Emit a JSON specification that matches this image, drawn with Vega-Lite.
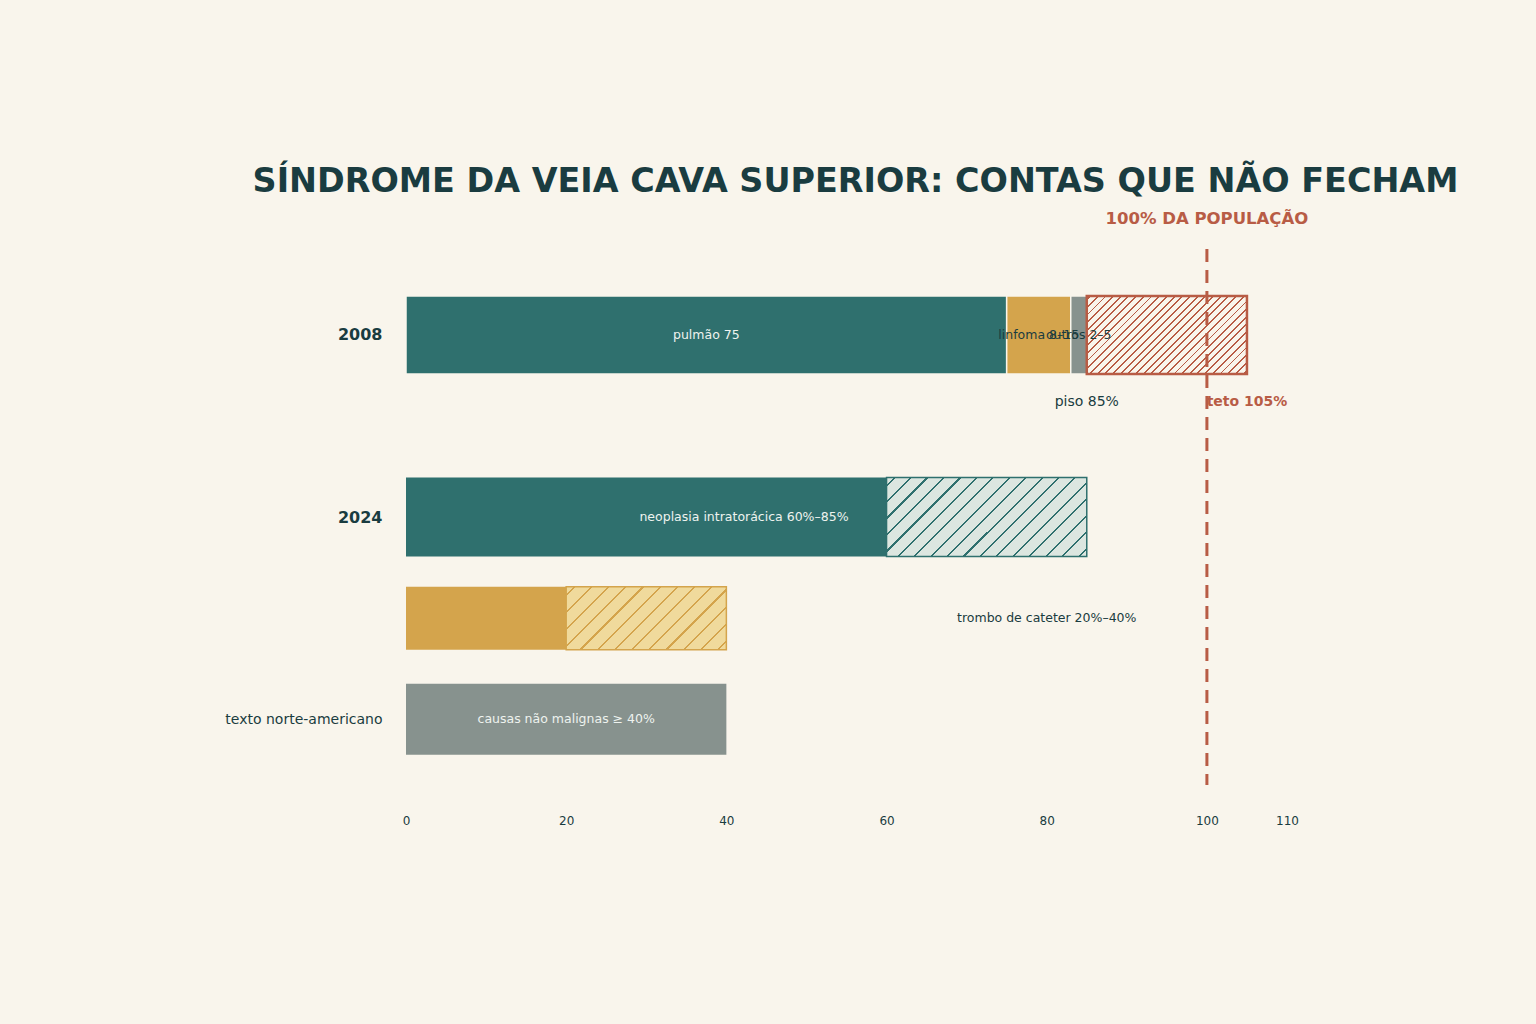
{
  "$schema": "https://vega.github.io/schema/vega-lite/v6.json",
  "width": 881,
  "height": 536,
  "autosize": {"type": "none"},
  "padding": {"left": 406, "top": 249, "right": 249, "bottom": 239},
  "background": "#f9f5ec",
  "config": {"view": {"stroke": null}, "font": "DejaVu Sans"},
  "title": {
    "text": "SÍNDROME DA VEIA CAVA SUPERIOR: CONTAS QUE NÃO FECHAM",
    "fontSize": 33.4,
    "fontWeight": "bold",
    "color": "#1a3c40",
    "font": "DejaVu Sans",
    "anchor": "middle",
    "frame": "group",
    "dx": 9,
    "dy": 75,
    "offset": 60,
    "baseline": "alphabetic"
  },
  "datasets": {
    "barras": [
      {"linha": "2008", "pos": 3.8, "causa": "pulmão", "tipo": "sólido", "inicio": 0, "fim": 75},
      {"linha": "2008", "pos": 3.8, "causa": "linfoma", "tipo": "sólido", "inicio": 75, "fim": 83},
      {"linha": "2008", "pos": 3.8, "causa": "outros", "tipo": "sólido", "inicio": 83, "fim": 85},
      {"linha": "2008", "pos": 3.8, "causa": "lacuna", "tipo": "faixa", "inicio": 85, "fim": 105},
      {"linha": "2024", "pos": 2, "causa": "neoplasia intratorácica", "tipo": "sólido", "inicio": 0, "fim": 60},
      {"linha": "2024", "pos": 2, "causa": "neoplasia intratorácica", "tipo": "faixa", "inicio": 60, "fim": 85},
      {"linha": "trombo", "pos": 1, "causa": "trombo de cateter", "tipo": "sólido", "inicio": 0, "fim": 20},
      {"linha": "trombo", "pos": 1, "causa": "trombo de cateter", "tipo": "faixa", "inicio": 20, "fim": 40},
      {"linha": "texto", "pos": 0, "causa": "causas não malignas", "tipo": "sólido", "inicio": 0, "fim": 40}
    ],
    "rotulosClaros": [
      {"texto": "pulmão 75", "x": 37.5, "y": 3.8},
      {"texto": "neoplasia intratorácica 60%–85%", "x": 42.2, "y": 2},
      {"texto": "causas não malignas ≥ 40%", "x": 20, "y": 0}
    ],
    "rotulosEscuros": [
      {"texto": "linfoma 8–15", "x": 79, "y": 3.8},
      {"texto": "outros 2–5", "x": 84, "y": 3.8},
      {"texto": "trombo de cateter 20%–40%", "x": 80, "y": 1}
    ]
  },
  "layer": [
    {
      "data": {"name": "barras"},
      "transform": [{"filter": "datum.linha == '2008' && datum.tipo == 'sólido'"}],
      "mark": {"type": "bar", "size": 78, "stroke": "#f9f5ec", "strokeWidth": 1.5},
      "encoding": {
        "x": {
          "field": "inicio", "type": "quantitative",
          "scale": {"domain": [0, 110], "nice": false, "zero": false, "padding": 0},
          "axis": {
            "values": [0, 20, 40, 60, 80, 100, 110],
            "grid": false, "domain": false, "ticks": false, "labelFlush": false,
            "labelPadding": 30, "labelFontSize": 12, "labelColor": "#1a3c40",
            "labelFont": "DejaVu Sans", "title": null
          }
        },
        "x2": {"field": "fim"},
        "y": {
          "field": "pos", "type": "quantitative",
          "scale": {"domain": [-0.65, 4.65], "nice": false, "zero": false, "padding": 0},
          "axis": {
            "values": [3.8, 2, 0],
            "labelExpr": "datum.value > 3 ? '2008' : datum.value > 1 ? '2024' : 'texto norte-americano'",
            "labelFontWeight": {"condition": {"test": "datum.value > 1", "value": "bold"}, "value": "normal"},
            "labelFontSize": {"condition": {"test": "datum.value > 1", "value": 16}, "value": 14},
            "grid": false, "domain": false, "ticks": false,
            "labelPadding": 24, "labelColor": "#1a3c40", "labelFont": "DejaVu Sans", "title": null
          }
        },
        "color": {
          "field": "causa", "type": "nominal",
          "scale": {
            "domain": ["pulmão", "linfoma", "outros", "neoplasia intratorácica", "trombo de cateter", "causas não malignas"],
            "range": ["#2f706e", "#d4a44c", "#87928e", "#2f706e", "#d4a44c", "#87928e"]
          },
          "legend": null
        }
      }
    },
    {
      "data": {"name": "barras"},
      "transform": [{"filter": "datum.linha == '2008' && datum.tipo == 'faixa'"}],
      "mark": {
        "type": "bar", "size": 78, "stroke": "#b85c45", "strokeWidth": 2.5,
        "fill": {
          "gradient": "linear", "x1": 0, "y1": 0, "x2": 1.2019, "y2": 0.5853,
          "stops": [
            {"offset": 0.012, "color": "#f9f5ec"}, {"offset": 0.012, "color": "#b85c45"}, {"offset": 0.020, "color": "#b85c45"}, {"offset": 0.020, "color": "#f9f5ec"},
            {"offset": 0.044, "color": "#f9f5ec"}, {"offset": 0.044, "color": "#b85c45"}, {"offset": 0.052, "color": "#b85c45"}, {"offset": 0.052, "color": "#f9f5ec"},
            {"offset": 0.077, "color": "#f9f5ec"}, {"offset": 0.077, "color": "#b85c45"}, {"offset": 0.085, "color": "#b85c45"}, {"offset": 0.085, "color": "#f9f5ec"},
            {"offset": 0.109, "color": "#f9f5ec"}, {"offset": 0.109, "color": "#b85c45"}, {"offset": 0.117, "color": "#b85c45"}, {"offset": 0.117, "color": "#f9f5ec"},
            {"offset": 0.141, "color": "#f9f5ec"}, {"offset": 0.141, "color": "#b85c45"}, {"offset": 0.149, "color": "#b85c45"}, {"offset": 0.149, "color": "#f9f5ec"},
            {"offset": 0.173, "color": "#f9f5ec"}, {"offset": 0.173, "color": "#b85c45"}, {"offset": 0.181, "color": "#b85c45"}, {"offset": 0.181, "color": "#f9f5ec"},
            {"offset": 0.206, "color": "#f9f5ec"}, {"offset": 0.206, "color": "#b85c45"}, {"offset": 0.214, "color": "#b85c45"}, {"offset": 0.214, "color": "#f9f5ec"},
            {"offset": 0.238, "color": "#f9f5ec"}, {"offset": 0.238, "color": "#b85c45"}, {"offset": 0.246, "color": "#b85c45"}, {"offset": 0.246, "color": "#f9f5ec"},
            {"offset": 0.270, "color": "#f9f5ec"}, {"offset": 0.270, "color": "#b85c45"}, {"offset": 0.278, "color": "#b85c45"}, {"offset": 0.278, "color": "#f9f5ec"},
            {"offset": 0.302, "color": "#f9f5ec"}, {"offset": 0.302, "color": "#b85c45"}, {"offset": 0.310, "color": "#b85c45"}, {"offset": 0.310, "color": "#f9f5ec"},
            {"offset": 0.335, "color": "#f9f5ec"}, {"offset": 0.335, "color": "#b85c45"}, {"offset": 0.343, "color": "#b85c45"}, {"offset": 0.343, "color": "#f9f5ec"},
            {"offset": 0.367, "color": "#f9f5ec"}, {"offset": 0.367, "color": "#b85c45"}, {"offset": 0.375, "color": "#b85c45"}, {"offset": 0.375, "color": "#f9f5ec"},
            {"offset": 0.399, "color": "#f9f5ec"}, {"offset": 0.399, "color": "#b85c45"}, {"offset": 0.407, "color": "#b85c45"}, {"offset": 0.407, "color": "#f9f5ec"},
            {"offset": 0.431, "color": "#f9f5ec"}, {"offset": 0.431, "color": "#b85c45"}, {"offset": 0.439, "color": "#b85c45"}, {"offset": 0.439, "color": "#f9f5ec"},
            {"offset": 0.464, "color": "#f9f5ec"}, {"offset": 0.464, "color": "#b85c45"}, {"offset": 0.472, "color": "#b85c45"}, {"offset": 0.472, "color": "#f9f5ec"},
            {"offset": 0.496, "color": "#f9f5ec"}, {"offset": 0.496, "color": "#b85c45"}, {"offset": 0.504, "color": "#b85c45"}, {"offset": 0.504, "color": "#f9f5ec"},
            {"offset": 0.528, "color": "#f9f5ec"}, {"offset": 0.528, "color": "#b85c45"}, {"offset": 0.536, "color": "#b85c45"}, {"offset": 0.536, "color": "#f9f5ec"},
            {"offset": 0.561, "color": "#f9f5ec"}, {"offset": 0.561, "color": "#b85c45"}, {"offset": 0.569, "color": "#b85c45"}, {"offset": 0.569, "color": "#f9f5ec"},
            {"offset": 0.593, "color": "#f9f5ec"}, {"offset": 0.593, "color": "#b85c45"}, {"offset": 0.601, "color": "#b85c45"}, {"offset": 0.601, "color": "#f9f5ec"},
            {"offset": 0.625, "color": "#f9f5ec"}, {"offset": 0.625, "color": "#b85c45"}, {"offset": 0.633, "color": "#b85c45"}, {"offset": 0.633, "color": "#f9f5ec"},
            {"offset": 0.657, "color": "#f9f5ec"}, {"offset": 0.657, "color": "#b85c45"}, {"offset": 0.665, "color": "#b85c45"}, {"offset": 0.665, "color": "#f9f5ec"},
            {"offset": 0.690, "color": "#f9f5ec"}, {"offset": 0.690, "color": "#b85c45"}, {"offset": 0.698, "color": "#b85c45"}, {"offset": 0.698, "color": "#f9f5ec"},
            {"offset": 0.722, "color": "#f9f5ec"}, {"offset": 0.722, "color": "#b85c45"}, {"offset": 0.730, "color": "#b85c45"}, {"offset": 0.730, "color": "#f9f5ec"},
            {"offset": 0.754, "color": "#f9f5ec"}, {"offset": 0.754, "color": "#b85c45"}, {"offset": 0.762, "color": "#b85c45"}, {"offset": 0.762, "color": "#f9f5ec"},
            {"offset": 0.786, "color": "#f9f5ec"}, {"offset": 0.786, "color": "#b85c45"}, {"offset": 0.794, "color": "#b85c45"}, {"offset": 0.794, "color": "#f9f5ec"},
            {"offset": 0.818, "color": "#f9f5ec"}, {"offset": 0.818, "color": "#b85c45"}, {"offset": 0.826, "color": "#b85c45"}, {"offset": 0.826, "color": "#f9f5ec"},
            {"offset": 0.851, "color": "#f9f5ec"}, {"offset": 0.851, "color": "#b85c45"}, {"offset": 0.859, "color": "#b85c45"}, {"offset": 0.859, "color": "#f9f5ec"},
            {"offset": 0.883, "color": "#f9f5ec"}, {"offset": 0.883, "color": "#b85c45"}, {"offset": 0.891, "color": "#b85c45"}, {"offset": 0.891, "color": "#f9f5ec"},
            {"offset": 0.915, "color": "#f9f5ec"}, {"offset": 0.915, "color": "#b85c45"}, {"offset": 0.923, "color": "#b85c45"}, {"offset": 0.923, "color": "#f9f5ec"},
            {"offset": 0.948, "color": "#f9f5ec"}, {"offset": 0.948, "color": "#b85c45"}, {"offset": 0.956, "color": "#b85c45"}, {"offset": 0.956, "color": "#f9f5ec"},
            {"offset": 0.980, "color": "#f9f5ec"}, {"offset": 0.980, "color": "#b85c45"}, {"offset": 0.988, "color": "#b85c45"}, {"offset": 0.988, "color": "#f9f5ec"}
          ]
        }
      },
      "encoding": {
        "x": {"field": "inicio", "type": "quantitative"},
        "x2": {"field": "fim"},
        "y": {"field": "pos", "type": "quantitative"}
      }
    },
    {
      "data": {"name": "barras"},
      "transform": [{"filter": "datum.linha == '2024' && datum.tipo == 'sólido'"}],
      "mark": {"type": "bar", "size": 79},
      "encoding": {
        "x": {"field": "inicio", "type": "quantitative"},
        "x2": {"field": "fim"},
        "y": {"field": "pos", "type": "quantitative"},
        "color": {"field": "causa", "type": "nominal", "legend": null}
      }
    },
    {
      "data": {"name": "barras"},
      "transform": [{"filter": "datum.linha == '2024' && datum.tipo == 'faixa'"}],
      "mark": {
        "type": "bar", "size": 79, "stroke": "#2f706e", "strokeWidth": 1.5,
        "fill": {
          "gradient": "linear", "x1": 0, "y1": 0, "x2": 1.2067, "y2": 0.4767,
          "stops": [
            {"offset": 0.025, "color": "#dce6e0"}, {"offset": 0.025, "color": "#2f706e"}, {"offset": 0.033, "color": "#2f706e"}, {"offset": 0.033, "color": "#dce6e0"},
            {"offset": 0.084, "color": "#dce6e0"}, {"offset": 0.084, "color": "#2f706e"}, {"offset": 0.092, "color": "#2f706e"}, {"offset": 0.092, "color": "#dce6e0"},
            {"offset": 0.143, "color": "#dce6e0"}, {"offset": 0.143, "color": "#2f706e"}, {"offset": 0.151, "color": "#2f706e"}, {"offset": 0.151, "color": "#dce6e0"},
            {"offset": 0.202, "color": "#dce6e0"}, {"offset": 0.202, "color": "#2f706e"}, {"offset": 0.210, "color": "#2f706e"}, {"offset": 0.210, "color": "#dce6e0"},
            {"offset": 0.261, "color": "#dce6e0"}, {"offset": 0.261, "color": "#2f706e"}, {"offset": 0.269, "color": "#2f706e"}, {"offset": 0.269, "color": "#dce6e0"},
            {"offset": 0.320, "color": "#dce6e0"}, {"offset": 0.320, "color": "#2f706e"}, {"offset": 0.328, "color": "#2f706e"}, {"offset": 0.328, "color": "#dce6e0"},
            {"offset": 0.378, "color": "#dce6e0"}, {"offset": 0.378, "color": "#2f706e"}, {"offset": 0.386, "color": "#2f706e"}, {"offset": 0.386, "color": "#dce6e0"},
            {"offset": 0.437, "color": "#dce6e0"}, {"offset": 0.437, "color": "#2f706e"}, {"offset": 0.445, "color": "#2f706e"}, {"offset": 0.445, "color": "#dce6e0"},
            {"offset": 0.496, "color": "#dce6e0"}, {"offset": 0.496, "color": "#2f706e"}, {"offset": 0.504, "color": "#2f706e"}, {"offset": 0.504, "color": "#dce6e0"},
            {"offset": 0.555, "color": "#dce6e0"}, {"offset": 0.555, "color": "#2f706e"}, {"offset": 0.563, "color": "#2f706e"}, {"offset": 0.563, "color": "#dce6e0"},
            {"offset": 0.614, "color": "#dce6e0"}, {"offset": 0.614, "color": "#2f706e"}, {"offset": 0.622, "color": "#2f706e"}, {"offset": 0.622, "color": "#dce6e0"},
            {"offset": 0.672, "color": "#dce6e0"}, {"offset": 0.672, "color": "#2f706e"}, {"offset": 0.680, "color": "#2f706e"}, {"offset": 0.680, "color": "#dce6e0"},
            {"offset": 0.731, "color": "#dce6e0"}, {"offset": 0.731, "color": "#2f706e"}, {"offset": 0.739, "color": "#2f706e"}, {"offset": 0.739, "color": "#dce6e0"},
            {"offset": 0.790, "color": "#dce6e0"}, {"offset": 0.790, "color": "#2f706e"}, {"offset": 0.798, "color": "#2f706e"}, {"offset": 0.798, "color": "#dce6e0"},
            {"offset": 0.849, "color": "#dce6e0"}, {"offset": 0.849, "color": "#2f706e"}, {"offset": 0.857, "color": "#2f706e"}, {"offset": 0.857, "color": "#dce6e0"},
            {"offset": 0.908, "color": "#dce6e0"}, {"offset": 0.908, "color": "#2f706e"}, {"offset": 0.916, "color": "#2f706e"}, {"offset": 0.916, "color": "#dce6e0"},
            {"offset": 0.967, "color": "#dce6e0"}, {"offset": 0.967, "color": "#2f706e"}, {"offset": 0.975, "color": "#2f706e"}, {"offset": 0.975, "color": "#dce6e0"}
          ]
        }
      },
      "encoding": {
        "x": {"field": "inicio", "type": "quantitative"},
        "x2": {"field": "fim"},
        "y": {"field": "pos", "type": "quantitative"}
      }
    },
    {
      "data": {"name": "barras"},
      "transform": [{"filter": "datum.linha == 'trombo' && datum.tipo == 'sólido'"}],
      "mark": {"type": "bar", "size": 63},
      "encoding": {
        "x": {"field": "inicio", "type": "quantitative"},
        "x2": {"field": "fim"},
        "y": {"field": "pos", "type": "quantitative"},
        "color": {"field": "causa", "type": "nominal", "legend": null}
      }
    },
    {
      "data": {"name": "barras"},
      "transform": [{"filter": "datum.linha == 'trombo' && datum.tipo == 'faixa'"}],
      "mark": {
        "type": "bar", "size": 63, "stroke": "#d4a44c", "strokeWidth": 1.5,
        "fill": {
          "gradient": "linear", "x1": 0, "y1": 0, "x2": 1.2067, "y2": 0.4754,
          "stops": [
            {"offset": 0.033, "color": "#f0da9c"}, {"offset": 0.033, "color": "#d4a44c"}, {"offset": 0.043, "color": "#d4a44c"}, {"offset": 0.043, "color": "#f0da9c"},
            {"offset": 0.110, "color": "#f0da9c"}, {"offset": 0.110, "color": "#d4a44c"}, {"offset": 0.120, "color": "#d4a44c"}, {"offset": 0.120, "color": "#f0da9c"},
            {"offset": 0.187, "color": "#f0da9c"}, {"offset": 0.187, "color": "#d4a44c"}, {"offset": 0.197, "color": "#d4a44c"}, {"offset": 0.197, "color": "#f0da9c"},
            {"offset": 0.264, "color": "#f0da9c"}, {"offset": 0.264, "color": "#d4a44c"}, {"offset": 0.274, "color": "#d4a44c"}, {"offset": 0.274, "color": "#f0da9c"},
            {"offset": 0.341, "color": "#f0da9c"}, {"offset": 0.341, "color": "#d4a44c"}, {"offset": 0.351, "color": "#d4a44c"}, {"offset": 0.351, "color": "#f0da9c"},
            {"offset": 0.418, "color": "#f0da9c"}, {"offset": 0.418, "color": "#d4a44c"}, {"offset": 0.428, "color": "#d4a44c"}, {"offset": 0.428, "color": "#f0da9c"},
            {"offset": 0.495, "color": "#f0da9c"}, {"offset": 0.495, "color": "#d4a44c"}, {"offset": 0.505, "color": "#d4a44c"}, {"offset": 0.505, "color": "#f0da9c"},
            {"offset": 0.572, "color": "#f0da9c"}, {"offset": 0.572, "color": "#d4a44c"}, {"offset": 0.582, "color": "#d4a44c"}, {"offset": 0.582, "color": "#f0da9c"},
            {"offset": 0.649, "color": "#f0da9c"}, {"offset": 0.649, "color": "#d4a44c"}, {"offset": 0.659, "color": "#d4a44c"}, {"offset": 0.659, "color": "#f0da9c"},
            {"offset": 0.726, "color": "#f0da9c"}, {"offset": 0.726, "color": "#d4a44c"}, {"offset": 0.736, "color": "#d4a44c"}, {"offset": 0.736, "color": "#f0da9c"},
            {"offset": 0.803, "color": "#f0da9c"}, {"offset": 0.803, "color": "#d4a44c"}, {"offset": 0.813, "color": "#d4a44c"}, {"offset": 0.813, "color": "#f0da9c"},
            {"offset": 0.880, "color": "#f0da9c"}, {"offset": 0.880, "color": "#d4a44c"}, {"offset": 0.890, "color": "#d4a44c"}, {"offset": 0.890, "color": "#f0da9c"},
            {"offset": 0.957, "color": "#f0da9c"}, {"offset": 0.957, "color": "#d4a44c"}, {"offset": 0.967, "color": "#d4a44c"}, {"offset": 0.967, "color": "#f0da9c"}
          ]
        }
      },
      "encoding": {
        "x": {"field": "inicio", "type": "quantitative"},
        "x2": {"field": "fim"},
        "y": {"field": "pos", "type": "quantitative"}
      }
    },
    {
      "data": {"name": "barras"},
      "transform": [{"filter": "datum.linha == 'texto'"}],
      "mark": {"type": "bar", "size": 71},
      "encoding": {
        "x": {"field": "inicio", "type": "quantitative"},
        "x2": {"field": "fim"},
        "y": {"field": "pos", "type": "quantitative"},
        "color": {"field": "causa", "type": "nominal", "legend": null}
      }
    },
    {
      "data": {"values": [{"limite": 100}]},
      "mark": {"type": "rule", "color": "#b85c45", "strokeWidth": 3, "strokeDash": [13, 8]},
      "encoding": {"x": {"field": "limite", "type": "quantitative"}}
    },
    {
      "data": {"name": "rotulosClaros"},
      "mark": {"type": "text", "fontSize": 12.5, "color": "#eef3ef", "align": "center", "baseline": "middle", "font": "DejaVu Sans"},
      "encoding": {
        "x": {"field": "x", "type": "quantitative"},
        "y": {"field": "y", "type": "quantitative"},
        "text": {"field": "texto"}
      }
    },
    {
      "data": {"name": "rotulosEscuros"},
      "mark": {"type": "text", "fontSize": 12.5, "color": "#1a3c40", "align": "center", "baseline": "middle", "font": "DejaVu Sans"},
      "encoding": {
        "x": {"field": "x", "type": "quantitative"},
        "y": {"field": "y", "type": "quantitative"},
        "text": {"field": "texto"}
      }
    },
    {
      "data": {"values": [{"texto": "piso 85%", "x": 85, "y": 3.14}]},
      "mark": {"type": "text", "fontSize": 14, "color": "#1a3c40", "align": "center", "baseline": "middle", "font": "DejaVu Sans"},
      "encoding": {
        "x": {"field": "x", "type": "quantitative"},
        "y": {"field": "y", "type": "quantitative"},
        "text": {"field": "texto"}
      }
    },
    {
      "data": {"values": [{"texto": "teto 105%", "x": 105, "y": 3.14}]},
      "mark": {"type": "text", "fontSize": 14, "fontWeight": "bold", "color": "#b85c45", "align": "center", "baseline": "middle", "font": "DejaVu Sans"},
      "encoding": {
        "x": {"field": "x", "type": "quantitative"},
        "y": {"field": "y", "type": "quantitative"},
        "text": {"field": "texto"}
      }
    },
    {
      "data": {"values": [{"texto": "100% DA POPULAÇÃO", "x": 100, "y": 4.95}]},
      "mark": {"type": "text", "fontSize": 16.5, "fontWeight": "bold", "color": "#b85c45", "align": "center", "baseline": "middle", "font": "DejaVu Sans"},
      "encoding": {
        "x": {"field": "x", "type": "quantitative"},
        "y": {"field": "y", "type": "quantitative"},
        "text": {"field": "texto"}
      }
    }
  ]
}
